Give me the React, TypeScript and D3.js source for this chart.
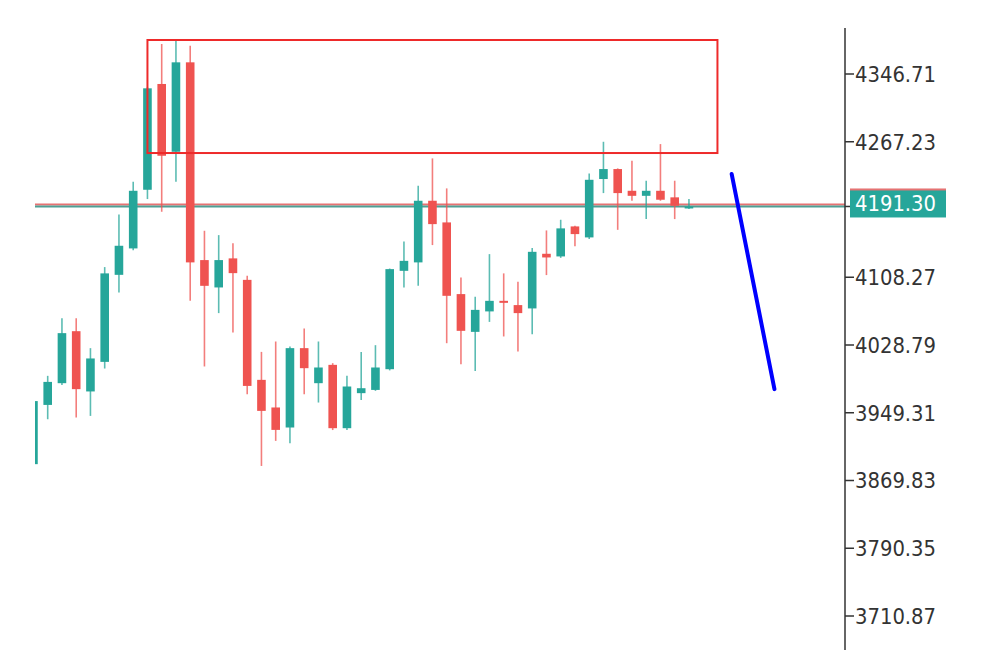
import React from "react";
import * as d3 from "d3";

// Bar data (index order, left to right)
const opens = [3889, 3958.5, 3984.0, 4045.0, 3974.3, 4009.0, 4111.1, 4142.1, 4210.9, 4335.0, 4255.5, 4360.4, 4128.4, 4096.3, 4130.4, 4105.2, 3987.9, 3955.5, 3932.0, 4025.1, 3984.0, 4005.5, 3931.2, 3972.3, 3976.1, 4000.4, 4115.8, 4125.7, 4198.0, 4172.6, 4088.5, 4044.2, 4068.2, 4080.6, 4075.6, 4071.7, 4135.8, 4132.7, 4167.9, 4155.0, 4223.5, 4235.2, 4209.7, 4203.8, 4209.7, 4202.0, 4190.5];
const highs = [3963, 3992.6, 4060.3, 4060.3, 4025.1, 4120.2, 4182.0, 4220.3, 4331.0, 4381.9, 4385.8, 4379.9, 4162.8, 4157.7, 4148.3, 4109.9, 4020.7, 4032.9, 4027.1, 4048.2, 4032.9, 4007.5, 3992.6, 4020.7, 4028.6, 4118.5, 4150.3, 4215.6, 4247.7, 4212.5, 4108.1, 4085.3, 4135.4, 4112.8, 4102.9, 4142.5, 4163.2, 4175.7, 4168.6, 4230.1, 4267.2, 4236.0, 4244.9, 4221.5, 4264.5, 4221.5, 4200.0];
const lows = [3889, 3941.7, 3982.0, 3943.7, 3945.6, 4001.2, 4090.5, 4140.0, 4200.0, 4185.1, 4220.3, 4080.6, 4003.6, 4066.2, 4043.5, 3971.1, 3886.9, 3916.3, 3913.6, 3971.1, 3961.3, 3929.0, 3929.0, 3964.4, 3975.0, 3999.0, 4096.3, 4098.2, 4146.0, 4030.9, 4006.3, 3998.4, 4055.9, 4038.8, 4021.2, 4041.5, 4110.8, 4131.0, 4144.5, 4153.0, 4207.0, 4163.9, 4198.0, 4176.5, 4198.0, 4176.5, 4188.2];
const closes = [3963, 3985.5, 4042.7, 3977.0, 4013.0, 4112.8, 4145.2, 4209.7, 4329.9, 4250.8, 4360.4, 4125.7, 4098.2, 4128.4, 4113.1, 3980.8, 3951.5, 3929.2, 4025.1, 4001.6, 4002.4, 3931.2, 3980.1, 3978.1, 4002.4, 4117.8, 4127.5, 4198.0, 4170.6, 4086.5, 4045.4, 4070.0, 4080.6, 4078.7, 4066.2, 4138.1, 4131.5, 4165.6, 4158.9, 4222.6, 4235.2, 4207.0, 4203.8, 4209.7, 4199.2, 4192.1, 4191.3];

// Price axis ticks
const tickValues = [4346.71, 4267.23, 4108.27, 4028.79, 3949.31, 3869.83, 3790.35, 3710.87];
const lastPrice = 4191.3;
const askPrice = 4193.6;

// Supply zone (bar index range, price range)
const zoneBars = [8, 48];
const zonePrices = [4386.6, 4254.0];

// Projected move (bar index, price)
const projBars = [49, 52];
const projPrices = [4229.3, 3977.0];

const UP = "#26a69a";
const DOWN = "#ef5350";

export default function App() {
  const W = 1000, H = 650;
  const axisX = 845;
  const x = d3.scaleLinear().domain([0, 46]).range([33.45, 33.45 + 14.25 * 46]);
  const y = d3.scaleLinear().domain([3710.87, 4346.71]).range([616, 74]);
  const bodyW = 8.6;
  const line = d3.line<[number, number]>().x(d => x(d[0])).y(d => y(d[1]));
  const projPts: [number, number][] = projBars.map((b, i) => [b, projPrices[i]]);

  return (
    <div style={{ position: "fixed", left: 0, top: 0, width: W, height: H, background: "#fff" }}>
      <svg width={W} height={H} style={{ display: "block" }}>
        <defs>
          <clipPath id="plot">
            <rect x={35} y={28} width={axisX - 35} height={H - 28} />
          </clipPath>
        </defs>
        <rect width={W} height={H} fill="#fff" />
        <g clipPath="url(#plot)">
          {/* price lines */}
          <line x1={35} x2={axisX} y1={y(askPrice)} y2={y(askPrice)} stroke="#e57373" strokeWidth={2} />
          <line x1={35} x2={axisX} y1={y(lastPrice)} y2={y(lastPrice)} stroke="#4f9e94" strokeWidth={2} />
          {/* candles */}
          {opens.map((o, i) => {
            const c = closes[i];
            const up = c >= o;
            const col = up ? UP : DOWN;
            const top = y(Math.max(o, c));
            const bot = y(Math.min(o, c));
            const cx = x(i);
            return (
              <g key={i}>
                <line x1={cx} x2={cx} y1={y(highs[i])} y2={y(lows[i])} stroke={col} strokeWidth={1.6} strokeOpacity={0.75} />
                <rect x={cx - bodyW / 2} y={top} width={bodyW} height={Math.max(bot - top, 2)} fill={col} />
              </g>
            );
          })}
          {/* zone */}
          <rect x={x(zoneBars[0])} y={y(zonePrices[0])} width={x(zoneBars[1]) - x(zoneBars[0])} height={y(zonePrices[1]) - y(zonePrices[0])} fill="none" stroke="#ee2a2a" strokeWidth={2} />
          {/* projection */}
          <path d={line(projPts) || ""} fill="none" stroke="#0000ff" strokeWidth={4} strokeLinecap="round" />
        </g>
        {/* axis */}
        <line x1={axisX} x2={axisX} y1={28} y2={H} stroke="#333" strokeWidth={1.5} />
        {tickValues.map(v => (
          <g key={v}>
            <line x1={axisX} x2={axisX + 9} y1={y(v)} y2={y(v)} stroke="#333" strokeWidth={1.5} />
            <text x={axisX + 10} y={y(v)} dy="0.36em" fontFamily="'DejaVu Sans Condensed', 'DejaVu Sans', sans-serif" fontSize={22} fill="#333" textLength={81} lengthAdjust="spacingAndGlyphs">
              {v.toFixed(2)}
            </text>
          </g>
        ))}
        {/* last price label */}
        <line x1={axisX} x2={axisX + 5} y1={y(lastPrice)} y2={y(lastPrice)} stroke="#333" strokeWidth={1.5} />
        <rect x={axisX + 5} y={y(lastPrice) - 17} width={96} height={28} fill="#26a69a" />
        <rect x={axisX + 5} y={y(lastPrice) - 18} width={96} height={2} fill="#e57373" />
        <text x={axisX + 10} y={y(lastPrice) - 3} dy="0.36em" fontFamily="'DejaVu Sans Condensed', 'DejaVu Sans', sans-serif" fontSize={22} fill="#fff" textLength={81} lengthAdjust="spacingAndGlyphs">
          {lastPrice.toFixed(2)}
        </text>
      </svg>
    </div>
  );
}
